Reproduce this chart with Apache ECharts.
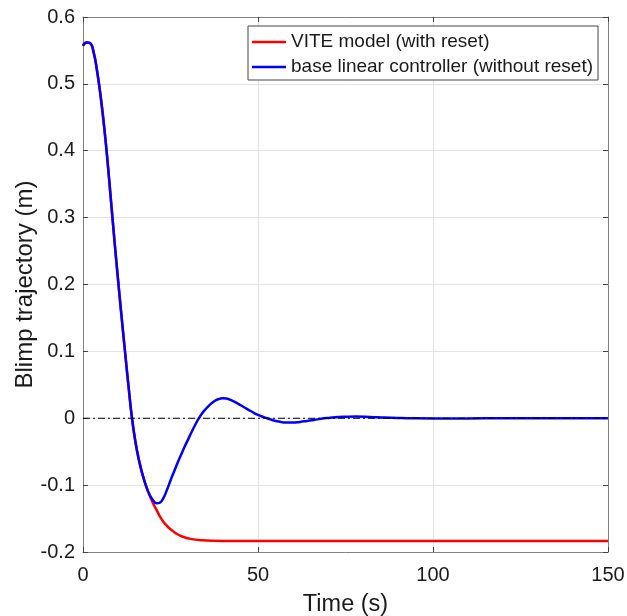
<!DOCTYPE html>
<html>
<head>
<meta charset="utf-8">
<script src="https://cdn.jsdelivr.net/npm/echarts@6/dist/echarts.min.js"></script>
<style>
  html, body { margin: 0; padding: 0; background: #fff; }
  #chart { width: 627px; height: 616px; }
</style>
</head>
<body>
<div id="chart"></div>
<script>
// base linear controller (without reset)
var blueTime = [0, 1, 2, 3, 4, 5, 6, 7, 8, 9, 10, 11, 12, 13, 14, 15, 16, 17, 18, 19, 20,
  21, 22, 23, 24, 25, 26, 27, 28, 29, 30, 31, 32, 33, 34, 35, 36, 37, 38, 39, 40, 41, 42,
  44, 46, 48, 50, 52, 54, 56, 58, 60, 62, 64, 66, 68, 70, 72, 75, 78, 82, 86, 90, 94,
  100, 110, 120, 135, 150];
var blueVals = [0.557, 0.562, 0.561, 0.548, 0.520, 0.483, 0.438, 0.385, 0.325, 0.265, 0.208,
  0.153, 0.100, 0.048, 0.000, -0.036, -0.063, -0.084, -0.101, -0.114, -0.1225,
  -0.127, -0.126, -0.119, -0.107, -0.093, -0.080, -0.067, -0.055, -0.043, -0.032, -0.021,
  -0.0105, -0.001, 0.007, 0.0135, 0.019, 0.0235, 0.027, 0.029, 0.030, 0.0295, 0.0278,
  0.0225, 0.0165, 0.0105, 0.005, 0.001, -0.0025, -0.005, -0.0065, -0.0065, -0.0055, -0.004,
  -0.0025, -0.0008, 0.0005, 0.0015, 0.0022, 0.0025, 0.002, 0.0012, 0.0005, 0,
  -0.0003, -0.0002, 0, 0, 0];

// VITE model (with reset)
var redTime = [0, 1, 2, 3, 4, 5, 6, 7, 8, 9, 10, 11, 12, 13, 14, 15, 16, 17, 18, 19, 20,
  21, 22, 23, 24, 25, 26, 27, 28, 29, 30, 32, 34, 37, 41, 50, 100, 150];
var redVals = [0.557, 0.562, 0.561, 0.548, 0.520, 0.483, 0.438, 0.385, 0.325, 0.265, 0.208,
  0.153, 0.100, 0.048, 0.000, -0.036, -0.063, -0.084, -0.101, -0.115, -0.127,
  -0.137, -0.147, -0.155, -0.161, -0.166, -0.170, -0.1735, -0.176, -0.178, -0.1795,
  -0.1815, -0.1825, -0.1832, -0.1835, -0.1837, -0.1837, -0.1837];

var refTime = [0, 150];
var refVals = [0, 0];

var seriesNames = ['VITE model (with reset)', 'base linear controller (without reset)'];

function pairs(xs, ys) {
  var out = [];
  for (var i = 0; i < xs.length; i++) out.push([xs[i], ys[i]]);
  return out;
}

var chart = echarts.init(document.getElementById('chart'));
var font = 'Liberation Sans, Arial, Helvetica, sans-serif';
var axisGray = '#808080';

var option = {
  animation: false,
  backgroundColor: '#fff',
  grid: { left: 83, top: 17, width: 525, height: 535, containLabel: false, outerBoundsMode: 'none' },
  legend: {
    data: seriesNames.map(function (n) { return { name: n, icon: 'rect' }; }),
    orient: 'vertical',
    left: 248,
    top: 26,
    itemWidth: 34,
    itemHeight: 2.5,
    itemGap: 5,
    padding: [6, 5, 3, 4],
    borderColor: '#444',
    borderWidth: 1,
    backgroundColor: '#fff',
    textStyle: { fontFamily: font, fontSize: 19, color: '#1a1a1a', lineHeight: 20 }
  },
  xAxis: [{
    type: 'value', min: 0, max: 150, interval: 50,
    name: 'Time (s)', nameLocation: 'middle', nameGap: 41,
    nameTextStyle: { fontFamily: font, fontSize: 23.5, color: '#1a1a1a' },
    axisLine: { show: true, onZero: false, lineStyle: { color: axisGray, width: 1 } },
    axisTick: { show: true, inside: true, length: 5, lineStyle: { color: '#444' } },
    axisLabel: { fontFamily: font, fontSize: 20, color: '#1a1a1a', margin: 13 },
    splitLine: { show: true, lineStyle: { color: '#e3e3e3', width: 1 } }
  }, {
    type: 'value', min: 0, max: 150, interval: 50, position: 'top',
    axisLine: { show: true, onZero: false, lineStyle: { color: axisGray, width: 1 } },
    axisTick: { show: true, inside: true, length: 5, lineStyle: { color: '#444' } },
    axisLabel: { show: false },
    splitLine: { show: false }
  }],
  yAxis: [{
    type: 'value', min: -0.2, max: 0.6, interval: 0.1,
    name: 'Blimp trajectory (m)', nameLocation: 'middle', nameGap: 46, nameMoveOverlap: false,
    nameTextStyle: { fontFamily: font, fontSize: 24, color: '#1a1a1a' },
    axisLine: { show: true, onZero: false, lineStyle: { color: axisGray, width: 1 } },
    axisTick: { show: true, inside: true, length: 5, lineStyle: { color: '#444' } },
    axisLabel: {
      fontFamily: font, fontSize: 20, color: '#1a1a1a', margin: 8,
      formatter: function (v) { return String(Math.round(v * 10) / 10); }
    },
    splitLine: { show: true, lineStyle: { color: '#e3e3e3', width: 1 } }
  }, {
    type: 'value', min: -0.2, max: 0.6, interval: 0.1, position: 'right',
    axisLine: { show: true, onZero: false, lineStyle: { color: axisGray, width: 1 } },
    axisTick: { show: true, inside: true, length: 5, lineStyle: { color: '#444' } },
    axisLabel: { show: false },
    splitLine: { show: false }
  }],
  series: [
    {
      name: seriesNames[0], type: 'line', symbol: 'none', smooth: true,
      data: pairs(redTime, redVals),
      lineStyle: { color: '#ff0000', width: 2.5 }, itemStyle: { color: '#ff0000' },
      z: 2
    },
    {
      name: seriesNames[1], type: 'line', symbol: 'none', smooth: true,
      data: pairs(blueTime, blueVals),
      lineStyle: { color: '#0000ff', width: 2.5 }, itemStyle: { color: '#0000ff' },
      z: 3
    },
    {
      name: 'zero', type: 'line', symbol: 'none',
      data: pairs(refTime, refVals),
      lineStyle: { color: '#000', width: 1, type: [7, 3, 2, 3] },
      z: 4, silent: true
    }
  ]
};
chart.setOption(option);
</script>
</body>
</html>
